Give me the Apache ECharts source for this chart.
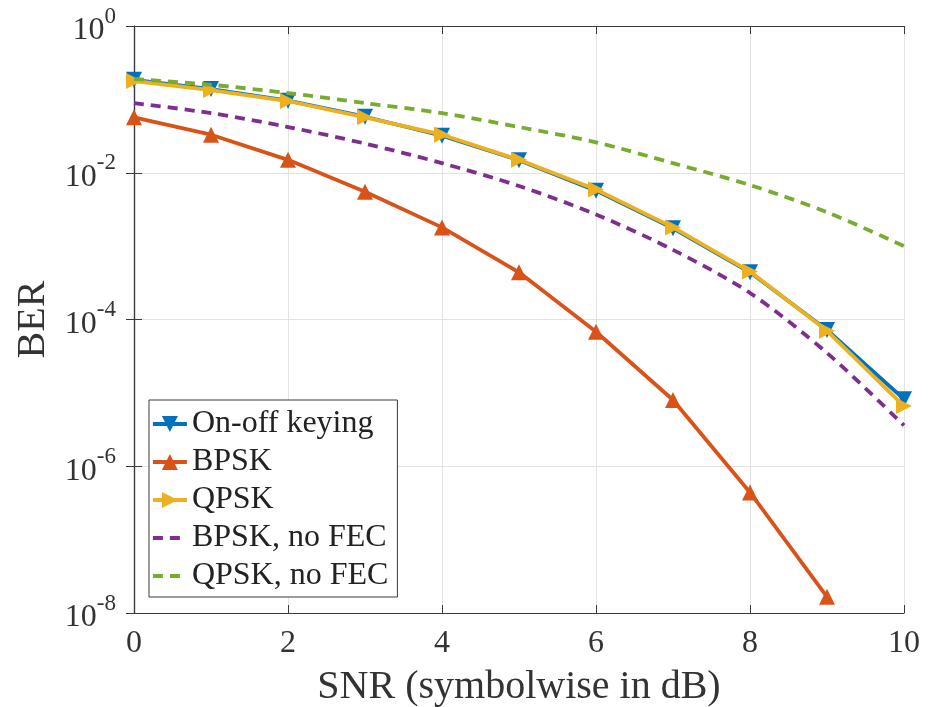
<!DOCTYPE html>
<html>
<head>
<meta charset="utf-8">
<script src="https://cdn.jsdelivr.net/npm/echarts@6/dist/echarts.min.js"></script>
<style>
  html, body { margin: 0; padding: 0; background: #fff; }
  #main { width: 929px; height: 707px; }
</style>
</head>
<body>
<div id="main"></div>
<script>
// SNR (dB) steps
var snr = [0, 1, 2, 3, 4, 5, 6, 7, 8, 9, 10];
// BER
var ookBer = [0.185, 0.138, 0.096, 0.058, 0.032, 0.0148, 0.0057, 0.00175, 4.4e-4, 7.2e-5, 8.2e-6];
var bpskBer = [0.057, 0.033, 0.015, 0.0055, 0.0018, 4.4e-4, 6.8e-5, 8e-6, 4.4e-7, 1.66e-8];
var qpskBer = [0.178, 0.134, 0.095, 0.057, 0.033, 0.015, 0.0059, 0.0018, 4.5e-4, 7e-5, 6.6e-6];
var bpskNoFec = [0.089, 0.065, 0.042, 0.025, 0.0135, 0.0066, 0.0027, 8.9e-4, 2.3e-4, 3.5e-5, 3.6e-6];
var qpskNoFec = [0.19, 0.158, 0.122, 0.089, 0.065, 0.042, 0.026, 0.0135, 0.0068, 0.0029, 1.0e-3];
var xTicks = [0, 2, 4, 6, 8, 10];

var font = 'Liberation Serif';
var axisColor = '#3a3a3a';
var gridColor = '#e3e3e3';

function pairs(ys) {
  var out = [];
  for (var i = 0; i < ys.length; i++) {
    out.push([snr[i], ys[i]]);
  }
  return out;
}

var myChart = echarts.init(document.getElementById('main'));

var option = {
  backgroundColor: '#fff',
  animation: false,
  grid: { left: 134, top: 26, right: 25, bottom: 94, containLabel: false, outerBoundsMode: 'none' },
  legend: {
    orient: 'vertical',
    left: 149,
    top: 400,
    backgroundColor: '#fff',
    borderColor: axisColor,
    borderWidth: 1,
    borderRadius: 0,
    padding: [8, 9, 5, 2],
    itemWidth: 34,
    itemHeight: 20,
    itemGap: 6,
    lineStyle: { width: 'inherit' },
    textStyle: { fontFamily: font, fontSize: 32, color: '#222', lineHeight: 30 },
    data: [
      'On-off keying',
      'BPSK',
      'QPSK',
      { name: 'BPSK, no FEC', itemStyle: { opacity: 0 } },
      { name: 'QPSK, no FEC', itemStyle: { opacity: 0 } }
    ]
  },
  xAxis: [{
    type: 'value',
    min: 0,
    max: 10,
    interval: 2,
    name: 'SNR (symbolwise in dB)',
    nameLocation: 'middle',
    nameGap: 54,
    nameTextStyle: { fontFamily: font, fontSize: 40, color: '#333' },
    axisLine: { show: true, lineStyle: { color: axisColor, width: 1.2 } },
    axisTick: { show: true, inside: true, length: 8, lineStyle: { color: axisColor } },
    axisLabel: {
      fontFamily: font, fontSize: 32, color: '#333', margin: 15,
      formatter: function (v) { return xTicks.indexOf(v) >= 0 ? String(v) : ''; }
    },
    splitLine: { show: true, lineStyle: { color: gridColor, width: 1 } }
  }, {
    type: 'value',
    position: 'top',
    min: 0,
    max: 10,
    interval: 2,
    axisLine: { show: true, lineStyle: { color: axisColor, width: 1.2 } },
    axisTick: { show: true, inside: true, length: 8, lineStyle: { color: axisColor } },
    axisLabel: { show: false },
    splitLine: { show: false }
  }],
  yAxis: [{
    type: 'log',
    logBase: 100,
    min: 1e-8,
    max: 1,
    name: 'BER',
    nameLocation: 'middle',
    nameGap: 78,
    nameRotate: 90,
    nameTextStyle: { fontFamily: font, fontSize: 40, color: '#333' },
    axisLine: { show: true, lineStyle: { color: axisColor, width: 1.2 } },
    axisTick: { show: true, inside: true, length: 8, lineStyle: { color: axisColor } },
    axisLabel: {
      margin: 18,
      formatter: function (v) {
        var e = Math.round(Math.log(v) / Math.LN10);
        return '{b|10}{s|' + e + '}';
      },
      rich: {
        b: { fontFamily: font, fontSize: 32, color: '#333', verticalAlign: 'bottom' },
        s: { fontFamily: font, fontSize: 23, color: '#333', verticalAlign: 'bottom', padding: [0, 0, 19, 0] }
      }
    },
    splitLine: { show: true, lineStyle: { color: gridColor, width: 1 } }
  }, {
    type: 'log',
    logBase: 100,
    min: 1e-8,
    max: 1,
    position: 'right',
    axisLine: { show: true, lineStyle: { color: axisColor, width: 1.2 } },
    axisTick: { show: true, inside: true, length: 8, lineStyle: { color: axisColor } },
    axisLabel: { show: false },
    splitLine: { show: false }
  }],
  series: [{
    name: 'On-off keying',
    type: 'line',
    data: pairs(ookBer),
    symbol: 'triangle',
    symbolRotate: 180,
    symbolSize: 16,
    color: '#0072BD',
    lineStyle: { width: 3.8 },
    z: 2
  }, {
    name: 'BPSK',
    type: 'line',
    data: pairs(bpskBer),
    symbol: 'triangle',
    symbolSize: 16,
    color: '#D95319',
    lineStyle: { width: 3.8 },
    z: 3
  }, {
    name: 'QPSK',
    type: 'line',
    data: pairs(qpskBer),
    symbol: 'triangle',
    symbolRotate: -90,
    symbolSize: 16,
    color: '#EDB120',
    lineStyle: { width: 3.8 },
    z: 4
  }, {
    name: 'BPSK, no FEC',
    type: 'line',
    data: pairs(bpskNoFec),
    symbol: 'none',
    smooth: 0.3,
    color: '#7E2F8E',
    lineStyle: { width: 3.8, type: [10, 7] },
    z: 5
  }, {
    name: 'QPSK, no FEC',
    type: 'line',
    data: pairs(qpskNoFec),
    symbol: 'none',
    smooth: 0.3,
    color: '#77AC30',
    lineStyle: { width: 3.8, type: [10, 7] },
    z: 5
  }]
};

myChart.setOption(option);
</script>
</body>
</html>
